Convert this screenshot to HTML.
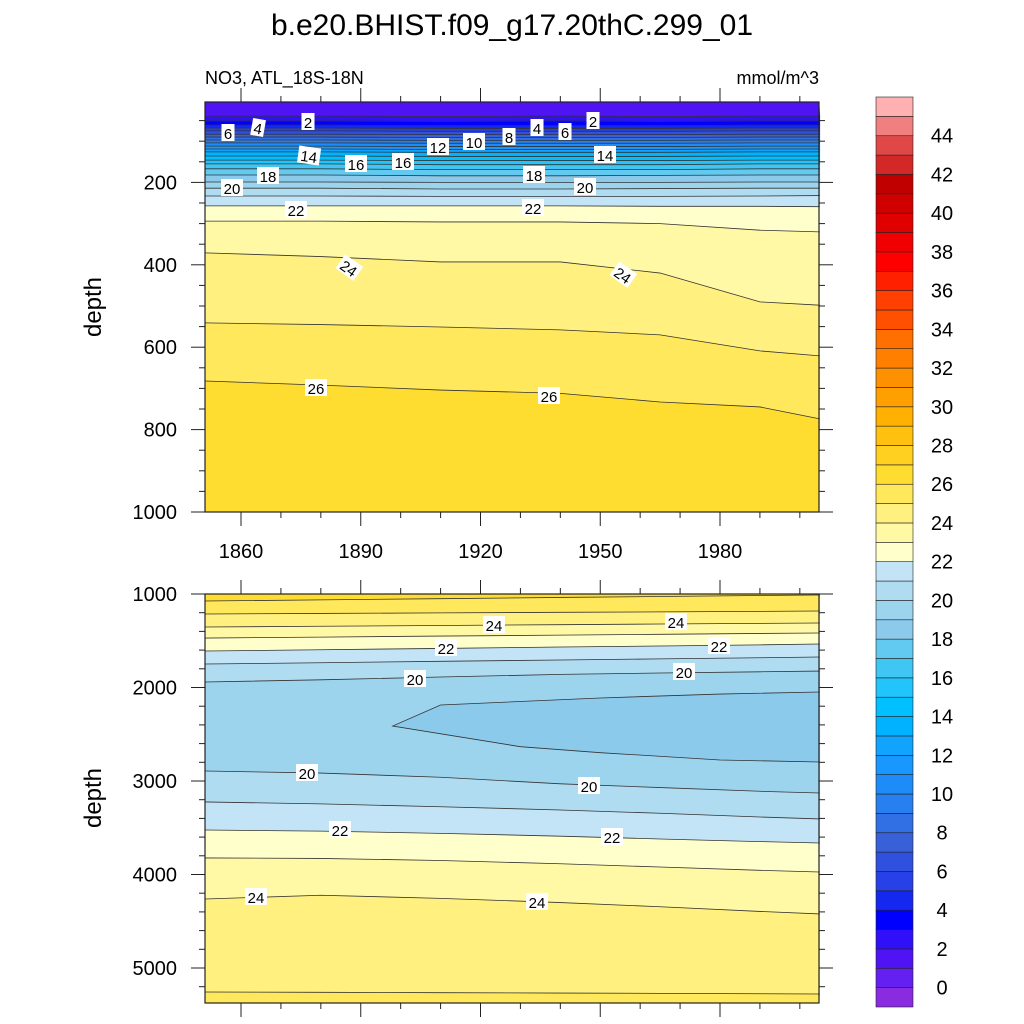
<!DOCTYPE html>
<html><head><meta charset="utf-8"><style>
body{margin:0;background:#fff;}
svg{display:block;font-family:"Liberation Sans",sans-serif;}
</style></head><body>
<svg id="chart" width="1024" height="1024" viewBox="0 0 1024 1024" xmlns="http://www.w3.org/2000/svg">
<rect width="1024" height="1024" fill="#fff"/>
<text x="512" y="35" font-size="30" text-anchor="middle">b.e20.BHIST.f09_g17.20thC.299_01</text>
<text x="205" y="84" font-size="18">NO3, ATL_18S-18N</text>
<text x="819" y="84" font-size="18" text-anchor="end">mmol/m^3</text>
<text transform="translate(101,307) rotate(-90)" font-size="24" text-anchor="middle">depth</text>
<text transform="translate(101,798) rotate(-90)" font-size="24" text-anchor="middle">depth</text>
<g id="top"></g><g id="bot"></g><g id="cbar"></g>
</svg>
<script>
const years = [1851,1880,1910,1940,1965,1990,2005];
// band colours: index i is band [i-1, i]
const bandColors = ["#8a2be2","#6420f0","#5014f4","#3010f8","#0000ff","#1428f0","#2840e8","#3050e0","#3860d8","#3070e4","#2880f0","#1e8cf8","#1898ff","#10a4ff","#00b2ff","#00c0ff","#22c4fc","#40c6f2","#62caf0","#8ccaec","#9cd4ee","#b0dcf2","#c2e4f6","#ffffcc","#fff8a4","#fff080","#ffe85c","#ffdc30","#ffd020","#ffc010","#ffb000","#ffa000","#ff9000","#ff8000","#ff7000","#ff5000","#ff4000","#ff2000","#ff0000","#f00000","#e00000","#d00000","#c00000","#d42828","#e04848","#f08080","#ffb0b0"];
// top panel contour lines (level, depths at years)
const topLevels = [2,3,4,5,6,7,8,9,10,11,12,13,14,15,16,17,18,19,20,21,22,23,24,25,26];
const topDepths = [
[39,39,40,39,40,39,39],[51,51,52,51,52,51,51],[61,61,62,62,62,61,61],[68,68,69,69,69,68,68],
[75,75,76,76,76,75,75],[83,83,84,84,84,83,83],[90,90,91,91,91,90,90],[97,97,98,98,98,97,97],
[104,104,105,105,105,104,104],[112,112,113,113,113,112,112],[119,119,120,120,120,119,119],[126,126,127,127,127,126,126],
[136,136,137,137,137,136,136],[146,146,147,147,147,146,146],[155,155,157,157,157,155,155],[167,167,169,169,169,167,167],
[182,182,184,184,183,182,182],[199,199,200,200,200,199,199],[214,214,216,216,215,214,214],[233,233,234,234,234,233,232],
[257,257,257,257,258,258,259],[294,294,296,296,300,316,320],[371,380,393,393,420,490,498],
[541,545,551,558,570,609,621],[682,692,704,712,733,745,774]];
const topBands = [1,2,3,4,5,6,7,8,9,10,11,12,13,14,15,16,17,18,19,20,21,22,23,24,25,26];
// bottom panel contour lines (top to bottom)
const botLevels = [26,25,24,23,22,21,20,20,21,22,23,24,25];
const botDepths = [
[1075,1063,1050,1037,1027,1016,1011],[1214,1208,1202,1196,1191,1186,1182],[1353,1345,1337,1328,1321,1314,1310],
[1471,1461,1450,1440,1431,1422,1417],[1610,1596,1582,1567,1556,1544,1535],[1749,1735,1720,1706,1694,1682,1674],
[1941,1918,1888,1860,1845,1832,1824],[2893,2915,2960,3030,3070,3110,3128],[3224,3245,3275,3310,3345,3385,3406],
[3524,3536,3560,3590,3620,3648,3663],[3823,3828,3850,3885,3920,3955,3973],[4262,4222,4255,4300,4345,4395,4422],
[5257,5260,5264,5268,5271,5275,5278]];
const botBands = [26,25,24,23,22,21,20,19,20,21,22,23,24,25];
const pocketUpperYears = [1898,1910,1950,1980,2005];
const pocketUpperDepths = [2412,2187,2112,2070,2048];
const pocketLowerYears = [1898,1930,1950,1980,2005];
const pocketLowerDepths = [2412,2633,2697,2775,2797];
const pocketBand = 18;
const xTickLabels = ["1860","1890","1920","1950","1980"];
const topYTicks = [200,400,600,800,1000];
const botYTicks = [1000,2000,3000,4000,5000];
const cbarLabels = [0,2,4,6,8,10,12,14,16,18,20,22,24,26,28,30,32,34,36,38,40,42,44];

const NS="http://www.w3.org/2000/svg";
function mk(tag,attrs,parent){const e=document.createElementNS(NS,tag);for(const k in attrs)e.setAttribute(k,attrs[k]);parent.appendChild(e);return e;}
const X0=205,X1=819;
const xs=y=>241+(y-1860)*(720-241)/120;
const ysTop=d=>100+d*0.412;
const ysBot=d=>594+(d-1000)*0.0935;
function pts(yrs,ds,ys){return yrs.map((y,i)=>[xs(y),ys(ds[i])]);}
function col(v){return bandColors[v+1];}

function panel(g,name,levels,depths,bands,ys,top,bottom){
  const lines=depths.map(d=>pts(years,d,ys));
  for(let i=0;i<=lines.length;i++){
    const a=i==0?[[X0,top],[X1,top]]:lines[i-1];
    const b=i==lines.length?[[X0,bottom],[X1,bottom]]:lines[i];
    const p=a.concat(b.slice().reverse()).map(q=>q.join(',')).join(' ');
    const poly=mk('polygon',{points:p,fill:col(bands[i]),stroke:col(bands[i]),'stroke-width':0.6},g);
    
    
  }
  return lines;
}
function drawLines(g,name,lines,levels){
  lines.forEach((l,i)=>{
    const pl=mk('polyline',{points:l.map(q=>q.join(',')).join(' '),fill:'none',stroke:'#333','stroke-width':0.8},g);
    
    
  });
}
function label(g,x,y,t,rot){
  const gg=mk('g',{transform:`translate(${x},${y}) rotate(${rot||0})`},g);
  
  
  const w=t.length*9+4;
  mk('rect',{x:-w/2,y:-9,width:w,height:17,fill:'#fff'},gg);
  const tx=mk('text',{x:0,y:6,'font-size':15,'text-anchor':'middle'},gg);tx.textContent=t;
}
function axes(g,name,top,bottom,ys,yTicks,minorStep,ymin,ymax,showX){
  mk('rect',{x:X0,y:top,width:X1-X0,height:bottom-top,fill:'none',stroke:'#222','stroke-width':1.2},g);
  for(let yr=1860;yr<=2000;yr+=10){
    const x=xs(yr),maj=(yr-1860)%30==0,L=maj?14:6;
    mk('line',{x1:x,x2:x,y1:top,y2:top-L,stroke:'#222'},g);
    mk('line',{x1:x,x2:x,y1:bottom,y2:bottom+L,stroke:'#222'},g);
  }
  if(showX) xTickLabels.forEach(t=>{const e=mk('text',{x:xs(+t),y:bottom+46,'font-size':20,'text-anchor':'middle'},g);e.textContent=t;
    
    });
  for(let d=ymin;d<=ymax;d+=minorStep){
    const y=ys(d);if(y<top-0.5||y>bottom+0.5)continue;
    const maj=yTicks.includes(d),L=maj?14:6;
    mk('line',{x1:X0,x2:X0-L,y1:y,y2:y,stroke:'#222'},g);
    mk('line',{x1:X1,x2:X1+L,y1:y,y2:y,stroke:'#222'},g);
  }
  yTicks.forEach(d=>{const e=mk('text',{x:177,y:ys(d)+7,'font-size':20,'text-anchor':'end'},g);e.textContent=d;
    
    });
}
// top panel
const gt=document.getElementById('top');


const tl=panel(gt,'top',topLevels,topDepths,topBands,ysTop,102,512);
drawLines(gt,'top',tl,topLevels);
[[228,133,'6'],[258,128,'4',10],[308,122,'2'],[309,156,'14',8],[268,176,'18'],[232,188,'20'],[356,164,'16'],[403,162,'16'],[438,147,'12'],[474,142,'10'],[509,137,'8'],[537,128,'4'],[565,132,'6'],[593,121,'2'],[605,155,'14'],[534,175,'18'],[585,187,'20'],[296,210,'22'],[533,208,'22'],[349,268,'24',35],[623,275,'24',35],[316,388,'26'],[549,396,'26']].forEach(a=>label(gt,a[0],a[1],a[2],a[3]));
axes(gt,'top',102,512,ysTop,topYTicks,50,0,1000,true);
// bottom panel
const gb=document.getElementById('bot');


const bl=panel(gb,'bottom',botLevels,botDepths,botBands,ysBot,594,1003);
const up=pts(pocketUpperYears,pocketUpperDepths,ysBot),lo=pts(pocketLowerYears,pocketLowerDepths,ysBot);
const pocketPts=up.concat([[X1,ysBot(pocketUpperDepths[4])],[X1,ysBot(pocketLowerDepths[4])]]).concat(lo.slice().reverse());
const pk=mk('polygon',{points:pocketPts.map(q=>q.join(',')).join(' '),fill:col(pocketBand)},gb);


drawLines(gb,'bottom',bl,botLevels);
const pl=mk('polyline',{points:up.slice().reverse().concat(lo.slice(1)).map(q=>q.join(',')).join(' '),fill:'none',stroke:'#333','stroke-width':0.8},gb);


[[494,625,'24'],[676,622,'24'],[446,648,'22'],[719,646,'22'],[415,679,'20'],[684,672,'20'],[307,773,'20'],[589,786,'20'],[340,830,'22'],[612,837,'22'],[256,897,'24'],[537,902,'24']].forEach(a=>label(gb,a[0],a[1],a[2]));
axes(gb,'bottom',594,1003,ysBot,botYTicks,200,1000,5400,false);
// colorbar
const gc=document.getElementById('cbar');


const cbTop=97,cbBot=1007,n=bandColors.length,h=(cbBot-cbTop)/n;
bandColors.forEach((c,i)=>{const r=mk('rect',{x:876,y:cbBot-(i+1)*h,width:37,height:h,fill:c,stroke:'#222','stroke-width':0.6},gc);
  
  });
cbarLabels.forEach(v=>{const e=mk('text',{x:942,y:cbBot-(v+1)*h+7,'font-size':20,'text-anchor':'middle'},gc);e.textContent=v;
  
  });
</script>
</body></html>
